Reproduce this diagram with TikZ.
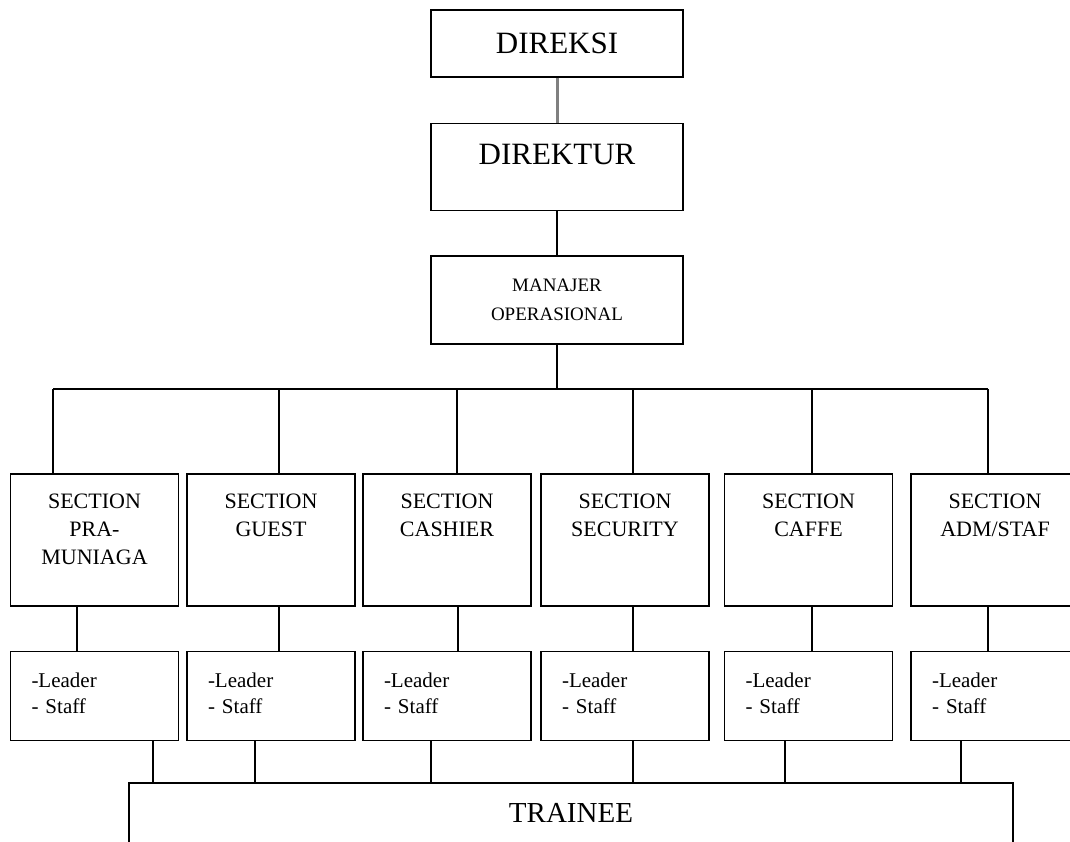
\documentclass[tikz,border=0pt]{standalone}
\usepackage{fontspec}
\setmainfont{Liberation Serif}
\usetikzlibrary{positioning}
\tikzset{
  box/.style={draw, line width=1.5pt, rectangle, inner ysep=0pt},
  sect/.style={box, text width=168pt, inner xsep=0pt, align=center, text height=35pt, text depth=97pt, font=\fontsize{22}{28}\selectfont},
  lead/.style={box, text width=126pt, inner xsep=21pt, align=left, text height=36pt, text depth=53pt, font=\fontsize{21}{26}\selectfont},
  link/.style={line width=1.5pt},
}
\begin{document}
\begin{tikzpicture}[x=1pt, y=-1pt]
\clip (0,0) rectangle (1070,842);
\node  (dir)[box, minimum width=252pt, minimum height=67pt, font=\fontsize{31}{37}\selectfont] at (557,43.5) {DIREKSI};
\node  (dirt)[box, minimum width=252pt, text height=41pt, text depth=46pt, font=\fontsize{31}{37}\selectfont] [below=45pt of dir] {DIREKTUR};
\node  (man)[box, minimum width=252pt, minimum height=88pt, align=center, font=\fontsize{19}{29}\selectfont] [below=44pt of dirt] {MANAJER\\OPERASIONAL};
\node  (s1)[sect, anchor=north] at (94.5,473) {SECTION\\PRA-\\MUNIAGA};
\node  (s2)[sect, anchor=north] at (271,473) {SECTION\\GUEST};
\node  (s3)[sect, anchor=north] at (447,473) {SECTION\\CASHIER};
\node  (s4)[sect, anchor=north] at (625,473) {SECTION\\SECURITY};
\node  (s5)[sect, anchor=north] at (808.5,473) {SECTION\\CAFFE};
\node  (s6)[sect, anchor=north] at (995,473) {SECTION\\ADM/STAF};
\node  (l1)[lead] [below=44pt of s1] {-Leader\\- Staff};
\node  (l2)[lead] [below=44pt of s2] {-Leader\\- Staff};
\node  (l3)[lead] [below=44pt of s3] {-Leader\\- Staff};
\node  (l4)[lead] [below=44pt of s4] {-Leader\\- Staff};
\node  (l5)[lead] [below=44pt of s5] {-Leader\\- Staff};
\node  (l6)[lead] [below=44pt of s6] {-Leader\\- Staff};
\node  (tr)[box, minimum width=884pt, text height=40pt, text depth=60pt, font=\fontsize{29}{35}\selectfont, anchor=north] at (571,782) {TRAINEE};
\coordinate (b1) at (53,389);
\coordinate (b2) at (279,389);
\coordinate (b3) at (457,389);
\coordinate (b4) at (633,389);
\coordinate (b5) at (812,389);
\coordinate (b6) at (988,389);
\draw[line width=3pt, gray] (dir) -- (dirt);
\draw[link] (dirt) -- (man);
\draw[link] (man) -- (man |- b1);
\draw[link] (b1) -- (b6);
\draw[link] (b1) -- (b1 |- s1.north);
\draw[link] (b2) -- (b2 |- s2.north);
\draw[link] (b3) -- (b3 |- s3.north);
\draw[link] (b4) -- (b4 |- s4.north);
\draw[link] (b5) -- (b5 |- s5.north);
\draw[link] (b6) -- (b6 |- s6.north);
\draw[link] ([xshift=-17.5pt]s1.south) -- ([xshift=-17.5pt]l1.north);
\draw[link] ([xshift=8pt]s2.south) -- ([xshift=8pt]l2.north);
\draw[link] ([xshift=11pt]s3.south) -- ([xshift=11pt]l3.north);
\draw[link] ([xshift=8pt]s4.south) -- ([xshift=8pt]l4.north);
\draw[link] ([xshift=3.5pt]s5.south) -- ([xshift=3.5pt]l5.north);
\draw[link] ([xshift=-7pt]s6.south) -- ([xshift=-7pt]l6.north);
\draw[link] ([xshift=58.5pt]l1.south) -- ([xshift=58.5pt]l1.south |- tr.north);
\draw[link] ([xshift=-16pt]l2.south) -- ([xshift=-16pt]l2.south |- tr.north);
\draw[link] ([xshift=-16pt]l3.south) -- ([xshift=-16pt]l3.south |- tr.north);
\draw[link] ([xshift=8pt]l4.south) -- ([xshift=8pt]l4.south |- tr.north);
\draw[link] ([xshift=-23.5pt]l5.south) -- ([xshift=-23.5pt]l5.south |- tr.north);
\draw[link] ([xshift=-34pt]l6.south) -- ([xshift=-34pt]l6.south |- tr.north);
\end{tikzpicture}
\end{document}
